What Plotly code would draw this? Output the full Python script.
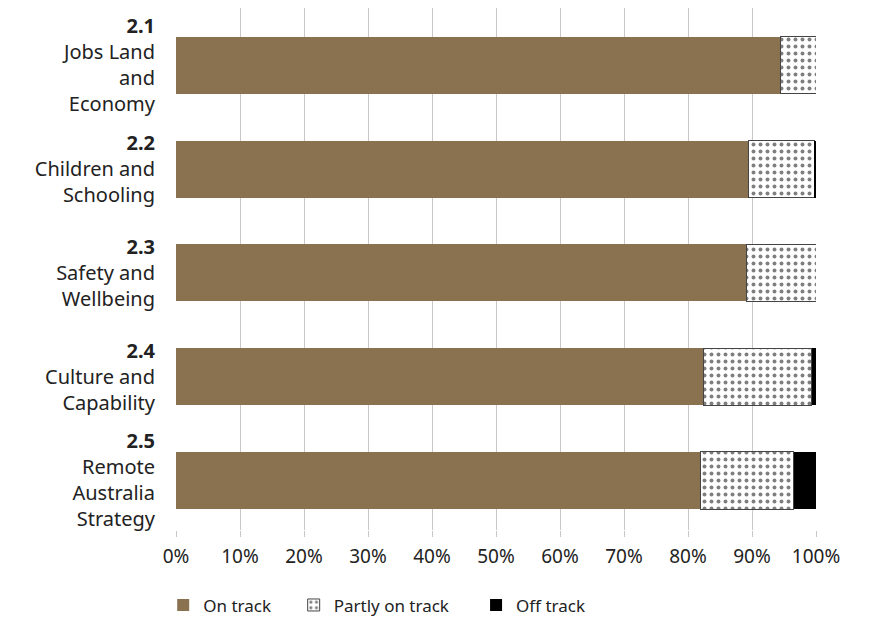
import plotly.graph_objects as go

categories = [
    "<b>2.1</b><br>Jobs Land<br>and<br>Economy",
    "<b>2.2</b><br>Children and<br>Schooling",
    "<b>2.3</b><br>Safety and<br>Wellbeing",
    "<b>2.4</b><br>Culture and<br>Capability",
    "<b>2.5</b><br>Remote<br>Australia<br>Strategy",
]
on_track = [94.5, 89.4, 89.1, 82.4, 82.0]
partly_on_track = [5.5, 10.3, 10.9, 16.9, 14.5]
off_track = [0.0, 0.3, 0.0, 0.7, 3.5]
tick_vals = [0, 10, 20, 30, 40, 50, 60, 70, 80, 90, 100]
tick_text = [f"{v}%" for v in tick_vals]
series_names = ["On track", "Partly on track", "Off track"]

FONT = "'Noto Sans', 'Open Sans', sans-serif"
NB = "\u00a0"

fig = go.Figure()
fig.add_trace(go.Bar(
    y=categories, x=on_track, name=series_names[0] + NB * 4, orientation="h",
    marker=dict(color="#8a7250", line=dict(width=0)),
))
fig.add_trace(go.Bar(
    y=categories, x=partly_on_track, name=series_names[1] + NB * 5, orientation="h",
    marker=dict(color="white", line=dict(color="#444444", width=1),
                pattern=dict(shape=".", fgcolor="black", bgcolor="white",
                             size=7, solidity=0.25, fillmode="overlay")),
))
fig.add_trace(go.Bar(
    y=categories, x=off_track, name=series_names[2], orientation="h",
    marker=dict(color="black", line=dict(width=0)),
))

fig.update_layout(
    barmode="stack",
    bargap=0.45,
    width=880, height=641,
    margin=dict(l=168, r=72, t=0, b=119),
    paper_bgcolor="white", plot_bgcolor="white",
    font=dict(family=FONT, size=17, color="#222222"),
    showlegend=True,
    legend=dict(orientation="h", x=-0.02, xanchor="left", y=-0.11, yanchor="top",
                font=dict(size=17, color="#222222"), traceorder="normal",
                itemwidth=30),
)
fig.update_xaxes(
    range=[0, 100], tickvals=tick_vals, ticktext=tick_text,
    showgrid=True, gridcolor="#c8c8c8", gridwidth=1,
    ticks="outside", ticklen=6, tickcolor="#c8c8c8",
    zeroline=False, showline=False, fixedrange=True,
    tickfont=dict(size=19), ticklabelstandoff=3, automargin=False,
)
fig.update_yaxes(
    range=[4.477, -0.552], showgrid=False, zeroline=False, showline=False,
    ticks="", ticklabelstandoff=20, tickfont=dict(size=20), automargin=False,
)

fig.write_html("out.html")
